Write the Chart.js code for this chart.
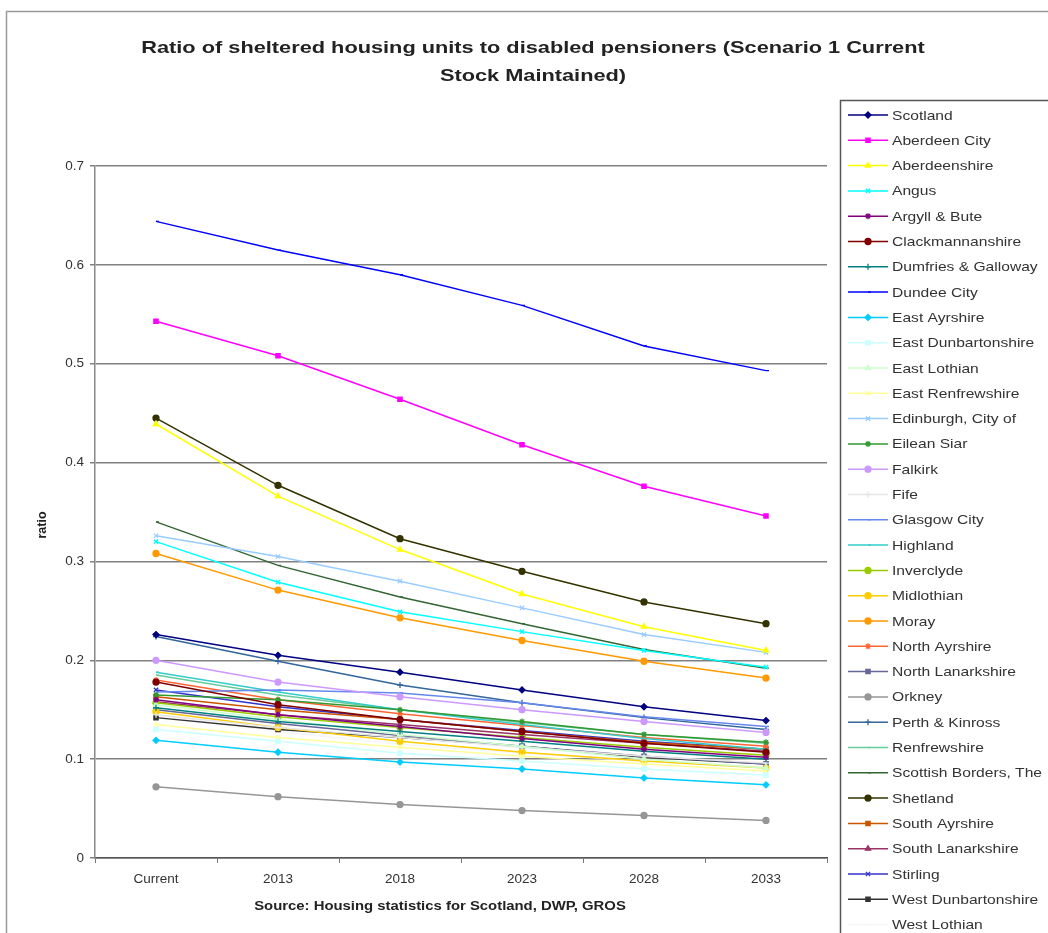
<!DOCTYPE html>
<html>
<head>
<meta charset="utf-8">
<script src="https://cdn.jsdelivr.net/npm/chart.js@4.4.0/dist/chart.umd.min.js"></script>
<style>
  html, body { margin: 0; padding: 0; background: #fff; }
  #wrap { width: 1048px; height: 933px; position: relative; }
</style>
</head>
<body>
<div id="wrap"><canvas id="grafico" width="1048" height="933"></canvas></div>
<script>
// Categorias do eixo x
const anos = ['Current', '2013', '2018', '2023', '2028', '2033'];
const ticksY = [0, 0.1, 0.2, 0.3, 0.4, 0.5, 0.6, 0.7];

// Nomes das séries (ordem da legenda)
const nomes = [
    'Scotland', 'Aberdeen City', 'Aberdeenshire', 'Angus', 'Argyll & Bute',
    'Clackmannanshire', 'Dumfries & Galloway', 'Dundee City', 'East Ayrshire',
    'East Dunbartonshire', 'East Lothian', 'East Renfrewshire', 'Edinburgh, City of',
    'Eilean Siar', 'Falkirk', 'Fife', 'Glasgow City', 'Highland', 'Inverclyde',
    'Midlothian', 'Moray', 'North Ayrshire', 'North Lanarkshire', 'Orkney',
    'Perth & Kinross', 'Renfrewshire', 'Scottish Borders, The', 'Shetland',
    'South Ayrshire', 'South Lanarkshire', 'Stirling', 'West Dunbartonshire', 'West Lothian'
];

// Valores (ratio)
const scotland          = [0.226, 0.205, 0.188, 0.170, 0.153, 0.139];
const aberdeenCity      = [0.543, 0.508, 0.464, 0.418, 0.376, 0.346];
const aberdeenshire     = [0.439, 0.366, 0.312, 0.267, 0.234, 0.210];
const angus             = [0.320, 0.279, 0.249, 0.229, 0.210, 0.193];
const argyllBute        = [0.160, 0.145, 0.133, 0.121, 0.110, 0.102];
const clackmannanshire  = [0.178, 0.155, 0.140, 0.128, 0.116, 0.107];
const dumfriesGalloway  = [0.152, 0.138, 0.128, 0.118, 0.108, 0.100];
const dundeeCity        = [0.644, 0.615, 0.590, 0.559, 0.518, 0.493];
const eastAyrshire      = [0.119, 0.107, 0.097, 0.090, 0.081, 0.074];
const eastDunbarton     = [0.130, 0.118, 0.106, 0.098, 0.090, 0.084];
const eastLothian       = [0.155, 0.140, 0.125, 0.113, 0.100, 0.091];
const eastRenfrewshire  = [0.135, 0.122, 0.112, 0.103, 0.095, 0.088];
const edinburgh         = [0.326, 0.305, 0.280, 0.253, 0.226, 0.208];
const eileanSiar        = [0.165, 0.160, 0.150, 0.138, 0.125, 0.117];
const falkirk           = [0.200, 0.178, 0.163, 0.150, 0.138, 0.127];
const fife              = [0.145, 0.132, 0.122, 0.112, 0.103, 0.096];
const glasgowCity       = [0.168, 0.170, 0.167, 0.157, 0.143, 0.133];
const highland          = [0.188, 0.168, 0.150, 0.135, 0.121, 0.110];
const inverclyde        = [0.157, 0.143, 0.132, 0.122, 0.112, 0.104];
const midlothian        = [0.148, 0.132, 0.118, 0.107, 0.098, 0.091];
const moray             = [0.308, 0.271, 0.243, 0.220, 0.199, 0.182];
const northAyrshire     = [0.180, 0.160, 0.146, 0.134, 0.122, 0.113];
const northLanarkshire  = [0.150, 0.136, 0.124, 0.113, 0.103, 0.095];
const orkney            = [0.072, 0.062, 0.054, 0.048, 0.043, 0.038];
const perthKinross      = [0.224, 0.199, 0.175, 0.157, 0.142, 0.130];
const renfrewshire      = [0.185, 0.165, 0.150, 0.137, 0.125, 0.116];
const scottishBorders   = [0.340, 0.296, 0.264, 0.237, 0.211, 0.192];
const shetland          = [0.445, 0.377, 0.323, 0.290, 0.259, 0.237];
const southAyrshire     = [0.163, 0.150, 0.140, 0.128, 0.117, 0.110];
const southLanarkshire  = [0.158, 0.145, 0.135, 0.125, 0.116, 0.108];
const stirling          = [0.170, 0.153, 0.140, 0.129, 0.118, 0.110];
const westDunbarton     = [0.142, 0.130, 0.122, 0.113, 0.102, 0.095];
const westLothian       = [0.145, 0.128, 0.115, 0.106, 0.098, 0.092];

const valores = [
    scotland, aberdeenCity, aberdeenshire, angus, argyllBute, clackmannanshire,
    dumfriesGalloway, dundeeCity, eastAyrshire, eastDunbarton, eastLothian,
    eastRenfrewshire, edinburgh, eileanSiar, falkirk, fife, glasgowCity, highland,
    inverclyde, midlothian, moray, northAyrshire, northLanarkshire, orkney,
    perthKinross, renfrewshire, scottishBorders, shetland, southAyrshire,
    southLanarkshire, stirling, westDunbarton, westLothian
];

// Cores e marcadores de cada série
const cores = [
    '#000080', '#FF00FF', '#FFFF00', '#00FFFF', '#800080', '#800000',
    '#008080', '#0000FF', '#00CCFF', '#CCFFFF', '#CCFFCC', '#FFFF99',
    '#99CCFF', '#339933', '#CC99FF', '#E6E6E6', '#6688EE', '#33CCCC',
    '#99CC00', '#FFCC00', '#FF9900', '#FF6633', '#666699', '#969696',
    '#336699', '#66CC99', '#336633', '#333300', '#CC5500', '#993366',
    '#3333CC', '#333333', '#F6F6F6'
];
const marcadores = [
    'rectRot', 'rect', 'triangle', 'crossRot', 'star', 'circle',
    'cross', 'dash', 'rectRot', 'rect', 'triangle', 'crossRot',
    'crossRot', 'star', 'circle', 'cross', 'dash', 'dash',
    'circle', 'circle', 'circle', 'star', 'rect', 'circle',
    'cross', 'dash', 'dash', 'circle', 'rect', 'triangle',
    'crossRot', 'rect', 'dash'
];

const datasets = nomes.map((nome, i) => ({
    label: nome,
    data: valores[i],
    borderColor: cores[i],
    backgroundColor: cores[i],
    pointBackgroundColor: cores[i],
    pointBorderColor: cores[i],
    pointStyle: marcadores[i],
    pointRadius: 3,
    pointBorderWidth: 1.3,
    borderWidth: 1.5,
    tension: 0,
    fill: false
}));

const fonte = '"Liberation Sans", Arial, sans-serif';

// Texto esticado na horizontal (a imagem original é mais larga)
function textoLargo(ctx, texto, x, y, escala) {
    ctx.save();
    ctx.translate(x, y);
    ctx.scale(escala, 1);
    ctx.fillText(texto, 0, 0);
    ctx.restore();
}

// Plugin para desenhar moldura, título, textos e legenda
const decoracao = {
    id: 'decoracao',
    beforeDraw(chart) {
        const ctx = chart.ctx;
        ctx.save();
        ctx.fillStyle = '#fff';
        ctx.fillRect(0, 0, chart.width, chart.height);
        ctx.strokeStyle = '#9a9a9a';
        ctx.lineWidth = 1.5;
        ctx.strokeRect(6.5, 11.5, 1200, 1200);
        ctx.restore();
    },
    afterDraw(chart) {
        const ctx = chart.ctx;
        ctx.save();
        ctx.fillStyle = '#222';
        ctx.textAlign = 'center';
        ctx.textBaseline = 'middle';
        ctx.font = 'bold 17px ' + fonte;
        textoLargo(ctx, 'Ratio of sheltered housing units to disabled pensioners (Scenario 1 Current', 533, 48, 1.28);
        textoLargo(ctx, 'Stock Maintained)', 533, 76, 1.28);

        ctx.font = 'bold 12.5px ' + fonte;
        textoLargo(ctx, 'Source: Housing statistics for Scotland, DWP, GROS', 440, 907, 1.19);

        ctx.save();
        ctx.translate(43, 525);
        ctx.rotate(-Math.PI / 2);
        ctx.fillText('ratio', 0, 0);
        ctx.restore();

        // Legenda
        ctx.strokeStyle = '#555';
        ctx.lineWidth = 1.5;
        ctx.strokeRect(840.5, 100.5, 400, 900);
        ctx.font = '13px ' + fonte;
        ctx.textAlign = 'left';
        chart.data.datasets.forEach((ds, i) => {
            const y = 115 + i * 25.3;
            ctx.strokeStyle = ds.borderColor;
            ctx.fillStyle = ds.borderColor;
            ctx.lineWidth = 1.5;
            ctx.beginPath();
            ctx.moveTo(848, y);
            ctx.lineTo(888, y);
            ctx.stroke();
            ctx.lineWidth = 1.3;
            Chart.helpers.drawPoint(ctx, {
                pointStyle: ds.pointStyle, radius: 3, rotation: 0, borderWidth: 1.3
            }, 868, y);
            ctx.fillStyle = '#333';
            textoLargo(ctx, ds.label, 892, y + 1, 1.2);
        });
        ctx.restore();
    }
};

const ctx = document.getElementById('grafico').getContext('2d');
const grafico = new Chart(ctx, {
    type: 'line',
    data: { labels: anos, datasets: datasets },
    options: {
        responsive: false,
        animation: false,
        layout: { padding: { left: 0, top: 166, right: 221, bottom: 0 } },
        scales: {
            x: {
                offset: true,
                grid: {
                    display: true,
                    offset: true,
                    drawOnChartArea: false,
                    drawTicks: true,
                    tickLength: 5,
                    color: '#777'
                },
                border: { color: '#555', width: 1.5 },
                ticks: {
                    color: '#333',
                    font: { family: fonte, size: 13.5 },
                    padding: 8,
                    maxRotation: 0
                },
                afterFit(scale) { scale.height = 75; }
            },
            y: {
                min: 0,
                max: 0.7,
                afterBuildTicks(scale) {
                    scale.ticks = ticksY.map(v => ({ value: v }));
                },
                grid: {
                    color: '#808080',
                    lineWidth: 1.5,
                    drawTicks: true,
                    tickLength: 5
                },
                border: { color: '#888', width: 1.5 },
                ticks: {
                    color: '#333',
                    font: { family: fonte, size: 13.5 },
                    padding: 6,
                    callback: v => (v === 0 ? '0' : v.toFixed(1))
                },
                afterFit(scale) { scale.width = 95; }
            }
        },
        plugins: {
            legend: { display: false },
            title: { display: false },
            tooltip: { enabled: false }
        }
    },
    plugins: [decoracao]
});
</script>
</body>
</html>
